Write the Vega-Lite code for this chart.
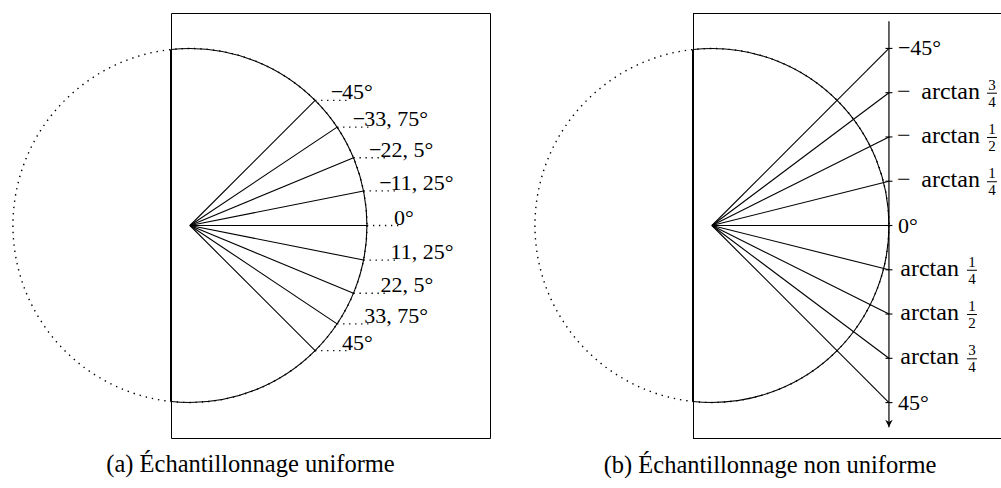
{
  "$schema": "https://vega.github.io/schema/vega-lite/v6.json",
  "autosize": {"type": "pad"},
  "padding": {"left": 9, "top": 12, "right": 0, "bottom": 0},
  "background": "white",
  "spacing": 203,
  "bounds": "flush",
  "resolve": {"scale": {"x": "independent", "y": "independent"}},
  "config": {
    "view": {"stroke": null},
    "axis": {"disable": true},
    "text": {"font": "Liberation Serif", "fontSize": 22, "color": "black", "fill": "black"},
    "title": {"font": "Liberation Serif", "fontSize": 24.5, "fontWeight": "normal", "color": "black", "anchor": "middle"}
  },
  "datasets": {
    "centre": [{"cx": 0, "cy": 0}],
    "chord": [{"x": -0.107, "y1": -0.994, "y2": 0.994}],
    "aRays": [
      {"o": 0, "c": 0.70711, "s": -0.70711, "sgn": "−", "num": "45°"},
      {"o": 0, "c": 0.83147, "s": -0.55557, "sgn": "−", "num": "33, 75°"},
      {"o": 0, "c": 0.92388, "s": -0.38268, "sgn": "−", "num": "22, 5°"},
      {"o": 0, "c": 0.98079, "s": -0.19509, "sgn": "−", "num": "11, 25°"},
      {"o": 0, "c": 1, "s": 0, "sgn": "", "num": "0°"},
      {"o": 0, "c": 0.98079, "s": 0.19509, "sgn": "", "num": "11, 25°"},
      {"o": 0, "c": 0.92388, "s": 0.38268, "sgn": "", "num": "22, 5°"},
      {"o": 0, "c": 0.83147, "s": 0.55557, "sgn": "", "num": "33, 75°"},
      {"o": 0, "c": 0.70711, "s": 0.70711, "sgn": "", "num": "45°"}
    ],
    "bTicks": [
      {"o": 0, "ax": 1, "t": -1, "lab": "−45°"},
      {"o": 0, "ax": 1, "t": -0.75, "sgn": "−", "num": "3", "den": "4"},
      {"o": 0, "ax": 1, "t": -0.5, "sgn": "−", "num": "1", "den": "2"},
      {"o": 0, "ax": 1, "t": -0.25, "sgn": "−", "num": "1", "den": "4"},
      {"o": 0, "ax": 1, "t": 0, "lab": "0°"},
      {"o": 0, "ax": 1, "t": 0.25, "num": "1", "den": "4"},
      {"o": 0, "ax": 1, "t": 0.5, "num": "1", "den": "2"},
      {"o": 0, "ax": 1, "t": 0.75, "num": "3", "den": "4"},
      {"o": 0, "ax": 1, "t": 1, "lab": "45°"}
    ],
    "bAxis": [{"x": 1, "y1": -1.154, "y2": 1.14}],
    "bBorderH": [
      {"x1": -0.107, "x2": 1.633, "y1": -1.2},
      {"x1": -0.107, "x2": 1.633, "y1": 1.2}
    ],
    "bBorderV": [
      {"x1": -0.107, "y1": -1.2, "y2": 1.2}
    ]
  },
  "hconcat": [
    {
      "width": 319,
      "height": 425,
      "view": {"stroke": "black", "strokeWidth": 1},
      "title": {"text": "(a) Échantillonnage uniforme", "orient": "bottom", "offset": 34, "baseline": "alphabetic", "dx": -80},
      "layer": [
        {
          "data": {"name": "centre"},
          "mark": {"type": "point", "shape": "circle", "size": 125316, "filled": false, "stroke": "black", "strokeWidth": 1.4, "strokeDash": [1.4, 4.9], "opacity": 1},
          "encoding": {
            "x": {"field": "cx", "type": "quantitative", "scale": {"domain": [-0.107, 1.695], "nice": false, "zero": false}},
            "y": {"field": "cy", "type": "quantitative", "scale": {"domain": [-1.2, 1.2], "nice": false, "zero": false, "reverse": true}}
          }
        },
        {
          "data": {"name": "centre"},
          "mark": {"type": "point", "shape": "circle", "size": 125316, "filled": false, "stroke": "black", "strokeWidth": 1.1, "opacity": 1, "clip": true},
          "encoding": {
            "x": {"field": "cx", "type": "quantitative", "scale": {"domain": [-0.107, 1.695], "nice": false, "zero": false}},
            "y": {"field": "cy", "type": "quantitative", "scale": {"domain": [-1.2, 1.2], "nice": false, "zero": false, "reverse": true}}
          }
        },
        {
          "data": {"name": "chord"},
          "mark": {"type": "rule", "color": "black", "strokeWidth": 2},
          "encoding": {
            "x": {"field": "x", "type": "quantitative", "scale": {"domain": [-0.107, 1.695], "nice": false, "zero": false}},
            "y": {"field": "y1", "type": "quantitative", "scale": {"domain": [-1.2, 1.2], "nice": false, "zero": false, "reverse": true}},
            "y2": {"field": "y2"}
          }
        },
        {
          "data": {"name": "aRays"},
          "mark": {"type": "rule", "color": "black", "strokeWidth": 1.1},
          "encoding": {
            "x": {"field": "o", "type": "quantitative", "scale": {"domain": [-0.107, 1.695], "nice": false, "zero": false}},
            "y": {"field": "o", "type": "quantitative", "scale": {"domain": [-1.2, 1.2], "nice": false, "zero": false, "reverse": true}},
            "x2": {"field": "c"},
            "y2": {"field": "s"}
          }
        },
        {
          "data": {"name": "aRays"},
          "mark": {"type": "rule", "color": "black", "strokeWidth": 1.3, "strokeDash": [1.3, 4.7], "x2Offset": 34},
          "encoding": {
            "x": {"field": "c", "type": "quantitative", "scale": {"domain": [-0.107, 1.695], "nice": false, "zero": false}},
            "x2": {"field": "c"},
            "y": {"field": "s", "type": "quantitative", "scale": {"domain": [-1.2, 1.2], "nice": false, "zero": false, "reverse": true}}
          }
        },
        {
          "data": {"name": "aRays"},
          "mark": {"type": "text", "align": "left", "baseline": "alphabetic", "dx": 27, "dy": -1, "color": "black"},
          "encoding": {
            "x": {"field": "c", "type": "quantitative", "scale": {"domain": [-0.107, 1.695], "nice": false, "zero": false}},
            "y": {"field": "s", "type": "quantitative", "scale": {"domain": [-1.2, 1.2], "nice": false, "zero": false, "reverse": true}},
            "text": {"field": "num"}
          }
        },
        {
          "data": {"name": "aRays"},
          "transform": [{"filter": "datum.sgn == '−'"}],
          "mark": {"type": "text", "align": "right", "baseline": "alphabetic", "dx": 28, "dy": -1, "color": "black"},
          "encoding": {
            "x": {"field": "c", "type": "quantitative", "scale": {"domain": [-0.107, 1.695], "nice": false, "zero": false}},
            "y": {"field": "s", "type": "quantitative", "scale": {"domain": [-1.2, 1.2], "nice": false, "zero": false, "reverse": true}},
            "text": {"field": "sgn"}
          }
        }
      ]
    },
    {
      "width": 308,
      "height": 425,
      "title": {"text": "(b) Échantillonnage non uniforme", "orient": "bottom", "offset": 34, "baseline": "alphabetic", "dx": -77},
      "layer": [
        {
          "data": {"name": "bBorderH"},
          "mark": {"type": "rule", "color": "black", "strokeWidth": 1, "yOffset": 0.5},
          "encoding": {
            "x": {"field": "x1", "type": "quantitative", "scale": {"domain": [-0.107, 1.633], "nice": false, "zero": false}},
            "x2": {"field": "x2"},
            "y": {"field": "y1", "type": "quantitative", "scale": {"domain": [-1.2, 1.2], "nice": false, "zero": false, "reverse": true}}
          }
        },
        {
          "data": {"name": "bBorderV"},
          "mark": {"type": "rule", "color": "black", "strokeWidth": 1, "xOffset": 0.5},
          "encoding": {
            "x": {"field": "x1", "type": "quantitative", "scale": {"domain": [-0.107, 1.633], "nice": false, "zero": false}},
            "y": {"field": "y1", "type": "quantitative", "scale": {"domain": [-1.2, 1.2], "nice": false, "zero": false, "reverse": true}},
            "y2": {"field": "y2"}
          }
        },
        {
          "data": {"name": "centre"},
          "mark": {"type": "point", "shape": "circle", "size": 125316, "filled": false, "stroke": "black", "strokeWidth": 1.4, "strokeDash": [1.4, 4.9], "opacity": 1},
          "encoding": {
            "x": {"field": "cx", "type": "quantitative", "scale": {"domain": [-0.107, 1.633], "nice": false, "zero": false}},
            "y": {"field": "cy", "type": "quantitative", "scale": {"domain": [-1.2, 1.2], "nice": false, "zero": false, "reverse": true}}
          }
        },
        {
          "data": {"name": "centre"},
          "mark": {"type": "point", "shape": "circle", "size": 125316, "filled": false, "stroke": "black", "strokeWidth": 1.1, "opacity": 1, "clip": true},
          "encoding": {
            "x": {"field": "cx", "type": "quantitative", "scale": {"domain": [-0.107, 1.633], "nice": false, "zero": false}},
            "y": {"field": "cy", "type": "quantitative", "scale": {"domain": [-1.2, 1.2], "nice": false, "zero": false, "reverse": true}}
          }
        },
        {
          "data": {"name": "chord"},
          "mark": {"type": "rule", "color": "black", "strokeWidth": 2},
          "encoding": {
            "x": {"field": "x", "type": "quantitative", "scale": {"domain": [-0.107, 1.633], "nice": false, "zero": false}},
            "y": {"field": "y1", "type": "quantitative", "scale": {"domain": [-1.2, 1.2], "nice": false, "zero": false, "reverse": true}},
            "y2": {"field": "y2"}
          }
        },
        {
          "data": {"name": "bAxis"},
          "mark": {"type": "rule", "color": "black", "strokeWidth": 1.2},
          "encoding": {
            "x": {"field": "x", "type": "quantitative", "scale": {"domain": [-0.107, 1.633], "nice": false, "zero": false}},
            "y": {"field": "y1", "type": "quantitative", "scale": {"domain": [-1.2, 1.2], "nice": false, "zero": false, "reverse": true}},
            "y2": {"field": "y2"}
          }
        },
        {
          "data": {"name": "bAxis"},
          "mark": {"type": "point", "shape": "M -1 -1 L 0 1 L 1 -1 L 0 -0.4 Z", "size": 56, "filled": true, "fill": "black", "opacity": 1, "yOffset": -4},
          "encoding": {
            "x": {"field": "x", "type": "quantitative", "scale": {"domain": [-0.107, 1.633], "nice": false, "zero": false}},
            "y": {"field": "y2", "type": "quantitative", "scale": {"domain": [-1.2, 1.2], "nice": false, "zero": false, "reverse": true}}
          }
        },
        {
          "data": {"name": "bTicks"},
          "mark": {"type": "rule", "color": "black", "strokeWidth": 1.1},
          "encoding": {
            "x": {"field": "o", "type": "quantitative", "scale": {"domain": [-0.107, 1.633], "nice": false, "zero": false}},
            "y": {"field": "o", "type": "quantitative", "scale": {"domain": [-1.2, 1.2], "nice": false, "zero": false, "reverse": true}},
            "x2": {"field": "ax"},
            "y2": {"field": "t"}
          }
        },
        {
          "data": {"name": "bTicks"},
          "mark": {"type": "rule", "color": "black", "strokeWidth": 1.1, "xOffset": -3.5, "x2Offset": 3.5},
          "encoding": {
            "x": {"field": "ax", "type": "quantitative", "scale": {"domain": [-0.107, 1.633], "nice": false, "zero": false}},
            "x2": {"field": "ax"},
            "y": {"field": "t", "type": "quantitative", "scale": {"domain": [-1.2, 1.2], "nice": false, "zero": false, "reverse": true}}
          }
        },
        {
          "data": {"name": "bTicks"},
          "transform": [{"filter": "isValid(datum.lab)"}],
          "mark": {"type": "text", "align": "left", "baseline": "alphabetic", "dx": 9, "dy": 7, "color": "black"},
          "encoding": {
            "x": {"field": "ax", "type": "quantitative", "scale": {"domain": [-0.107, 1.633], "nice": false, "zero": false}},
            "y": {"field": "t", "type": "quantitative", "scale": {"domain": [-1.2, 1.2], "nice": false, "zero": false, "reverse": true}},
            "text": {"field": "lab"}
          }
        },
        {
          "data": {"name": "bTicks"},
          "transform": [{"filter": "datum.sgn == '−'"}],
          "mark": {"type": "text", "align": "left", "baseline": "alphabetic", "dx": 8, "dy": 6, "fontSize": 24, "color": "black"},
          "encoding": {
            "x": {"field": "ax", "type": "quantitative", "scale": {"domain": [-0.107, 1.633], "nice": false, "zero": false}},
            "y": {"field": "t", "type": "quantitative", "scale": {"domain": [-1.2, 1.2], "nice": false, "zero": false, "reverse": true}},
            "text": {"field": "sgn"}
          }
        },
        {
          "data": {"name": "bTicks"},
          "transform": [{"filter": "isValid(datum.den) && datum.t < 0"}],
          "mark": {"type": "text", "align": "right", "baseline": "alphabetic", "dx": 91, "dy": 6, "fontSize": 24, "color": "black"},
          "encoding": {
            "x": {"field": "ax", "type": "quantitative", "scale": {"domain": [-0.107, 1.633], "nice": false, "zero": false}},
            "y": {"field": "t", "type": "quantitative", "scale": {"domain": [-1.2, 1.2], "nice": false, "zero": false, "reverse": true}},
            "text": {"value": "arctan"}
          }
        },
        {
          "data": {"name": "bTicks"},
          "transform": [{"filter": "isValid(datum.den) && datum.t > 0"}],
          "mark": {"type": "text", "align": "right", "baseline": "alphabetic", "dx": 70, "dy": 6, "fontSize": 24, "color": "black"},
          "encoding": {
            "x": {"field": "ax", "type": "quantitative", "scale": {"domain": [-0.107, 1.633], "nice": false, "zero": false}},
            "y": {"field": "t", "type": "quantitative", "scale": {"domain": [-1.2, 1.2], "nice": false, "zero": false, "reverse": true}},
            "text": {"value": "arctan"}
          }
        },
        {
          "data": {"name": "bTicks"},
          "transform": [{"filter": "isValid(datum.den) && datum.t < 0"}],
          "mark": {"type": "text", "align": "center", "baseline": "alphabetic", "dx": 103, "dy": -3, "fontSize": 15, "color": "black"},
          "encoding": {
            "x": {"field": "ax", "type": "quantitative", "scale": {"domain": [-0.107, 1.633], "nice": false, "zero": false}},
            "y": {"field": "t", "type": "quantitative", "scale": {"domain": [-1.2, 1.2], "nice": false, "zero": false, "reverse": true}},
            "text": {"field": "num"}
          }
        },
        {
          "data": {"name": "bTicks"},
          "transform": [{"filter": "isValid(datum.den) && datum.t < 0"}],
          "mark": {"type": "text", "align": "center", "baseline": "alphabetic", "dx": 103, "dy": 14, "fontSize": 15, "color": "black"},
          "encoding": {
            "x": {"field": "ax", "type": "quantitative", "scale": {"domain": [-0.107, 1.633], "nice": false, "zero": false}},
            "y": {"field": "t", "type": "quantitative", "scale": {"domain": [-1.2, 1.2], "nice": false, "zero": false, "reverse": true}},
            "text": {"field": "den"}
          }
        },
        {
          "data": {"name": "bTicks"},
          "transform": [{"filter": "isValid(datum.den) && datum.t > 0"}],
          "mark": {"type": "text", "align": "center", "baseline": "alphabetic", "dx": 83, "dy": -3, "fontSize": 15, "color": "black"},
          "encoding": {
            "x": {"field": "ax", "type": "quantitative", "scale": {"domain": [-0.107, 1.633], "nice": false, "zero": false}},
            "y": {"field": "t", "type": "quantitative", "scale": {"domain": [-1.2, 1.2], "nice": false, "zero": false, "reverse": true}},
            "text": {"field": "num"}
          }
        },
        {
          "data": {"name": "bTicks"},
          "transform": [{"filter": "isValid(datum.den) && datum.t > 0"}],
          "mark": {"type": "text", "align": "center", "baseline": "alphabetic", "dx": 83, "dy": 14, "fontSize": 15, "color": "black"},
          "encoding": {
            "x": {"field": "ax", "type": "quantitative", "scale": {"domain": [-0.107, 1.633], "nice": false, "zero": false}},
            "y": {"field": "t", "type": "quantitative", "scale": {"domain": [-1.2, 1.2], "nice": false, "zero": false, "reverse": true}},
            "text": {"field": "den"}
          }
        },
        {
          "data": {"name": "bTicks"},
          "transform": [{"filter": "isValid(datum.den) && datum.t < 0"}],
          "mark": {"type": "rule", "color": "black", "strokeWidth": 1, "xOffset": 98, "x2Offset": 108, "yOffset": 0.5},
          "encoding": {
            "x": {"field": "ax", "type": "quantitative", "scale": {"domain": [-0.107, 1.633], "nice": false, "zero": false}},
            "x2": {"field": "ax"},
            "y": {"field": "t", "type": "quantitative", "scale": {"domain": [-1.2, 1.2], "nice": false, "zero": false, "reverse": true}}
          }
        },
        {
          "data": {"name": "bTicks"},
          "transform": [{"filter": "isValid(datum.den) && datum.t > 0"}],
          "mark": {"type": "rule", "color": "black", "strokeWidth": 1, "xOffset": 78, "x2Offset": 88, "yOffset": 0.5},
          "encoding": {
            "x": {"field": "ax", "type": "quantitative", "scale": {"domain": [-0.107, 1.633], "nice": false, "zero": false}},
            "x2": {"field": "ax"},
            "y": {"field": "t", "type": "quantitative", "scale": {"domain": [-1.2, 1.2], "nice": false, "zero": false, "reverse": true}}
          }
        }
      ]
    }
  ]
}
